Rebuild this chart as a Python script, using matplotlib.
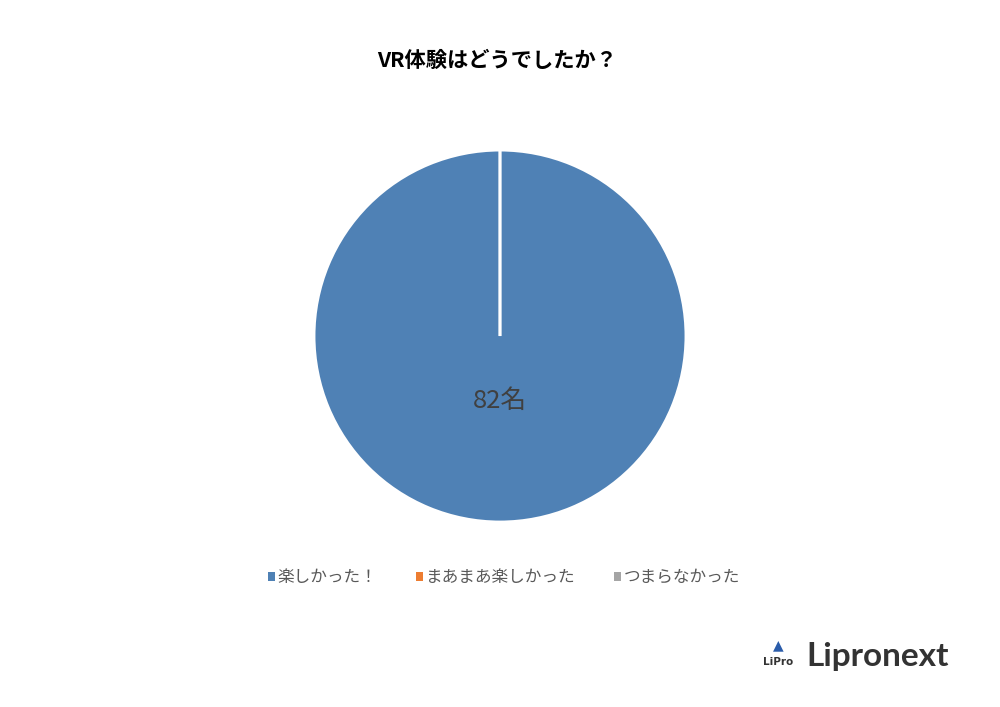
import matplotlib
matplotlib.use("Agg")
import matplotlib.pyplot as plt
from matplotlib.patches import Patch

plt.rcParams['font.family'] = ['Noto Sans CJK JP', 'DejaVu Sans']

title = "VR体験はどうでしたか？"
categories = ["楽しかった！", "まあまあ楽しかった", "つまらなかった"]
counts = [82, 0, 0]
colors = ["#4F81B5", "#ED7D31", "#A5A5A5"]

fig = plt.figure(figsize=(10, 7.07), dpi=100)
ax = fig.add_axes([0.314, 0.2617, 0.372, 0.526])

def fmt(pct):
    v = round(pct * sum(counts) / 100)
    return f"{v}名" if v > 0 else ""

wedges, texts, autotexts = ax.pie(
    counts, colors=colors, startangle=90, counterclock=False,
    autopct=fmt, pctdistance=0.35,
    wedgeprops=dict(edgecolor="white", linewidth=2),
    textprops=dict(color="#404040", fontsize=18.5))
ax.set_xlim(-1.0, 1.0)
ax.set_ylim(-1.0, 1.0)
ax.set_aspect("equal")

fig.text(0.497, 0.915, title, ha="center", va="center", fontsize=15.3,
         fontweight="bold", color="black")

handles = [Patch(facecolor=c, edgecolor="none") for c in colors]
fig.legend(handles, categories, loc="center", bbox_to_anchor=(0.504, 0.183),
           ncol=3, frameon=False, fontsize=12, handlelength=0.45,
           handleheight=0.45, handletextpad=0.15, columnspacing=2.3,
           labelcolor="#595959")

fig.text(0.806, 0.071, "Lipronext", ha="left", va="center", fontsize=24,
         fontweight="bold", color="#333333", family=["Lato", "DejaVu Sans"])
fig.text(0.778, 0.063, "LiPro", ha="center", va="center", fontsize=7.5,
         fontweight="bold", color="#333333", family=["DejaVu Sans"])
fig.text(0.778, 0.088, "▲", ha="center", va="center", fontsize=10,
         color="#2A5CAA", family=["DejaVu Sans"])

fig.savefig("out.png", dpi=100, facecolor="white")
